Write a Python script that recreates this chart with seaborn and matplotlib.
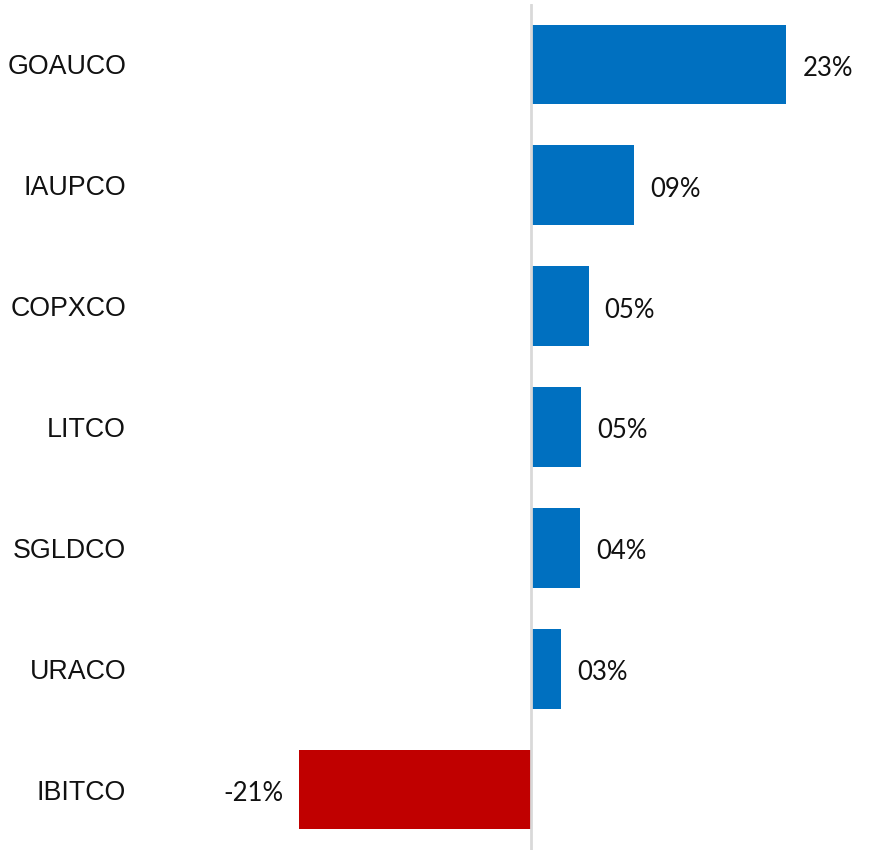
import pandas as pd
import numpy as np
import matplotlib.pyplot as plt
import seaborn as sns

# ── Data ─────────────────────────────────────────
tickers = ["GOAUCO", "IAUPCO", "COPXCO", "LITCO", "SGLDCO", "URACO", "IBITCO"]
returns = [23.0, 9.3, 5.2, 4.5, 4.4, 2.7, -20.9]
labels = ["23%", "09%", "05%", "05%", "04%", "03%", "-21%"]

BLUE = "#0070C0"
RED = "#C00000"

df = pd.DataFrame({"ticker": tickers, "ret": returns})
df["sign"] = np.where(df["ret"] >= 0, "pos", "neg")

sns.set_style("white")
plt.rcParams["font.family"] = ["Liberation Sans", "DejaVu Sans"]

fig = plt.figure(figsize=(8.71, 8.5), dpi=100)
ax = fig.add_axes([140 / 871, 0.0, 1 - 140 / 871, 1 - 4 / 850])

sns.barplot(
    data=df, x="ret", y="ticker", hue="sign",
    palette={"pos": BLUE, "neg": RED},
    orient="h", width=0.66, dodge=False, legend=False, ax=ax,
    saturation=1, linewidth=0,
)

# zero line, drawn over the bars like the original
ax.axvline(0, color="#d9d9d9", lw=2, zorder=3)

# value labels
for i, (v, lab) in enumerate(zip(returns, labels)):
    if v >= 0:
        ax.annotate(lab, (v, i), xytext=(16, -4), textcoords="offset pixels",
                    ha="left", va="center", fontsize=18.5, family="Lato", color="#111111")
    else:
        ax.annotate(lab, (v, i), xytext=(-16, -4), textcoords="offset pixels",
                    ha="right", va="center", fontsize=18.5, family="Lato", color="#111111")

ax.set_xlim((140 - 531) / 11.1, (871 - 531) / 11.1)
ax.set_ylim(6.5, -0.5)
ax.set_xlabel("")
ax.set_ylabel("")
ax.set_xticks([])
ax.tick_params(axis="y", length=0, labelsize=19.3, pad=10, labelcolor="#111111")
for s in ax.spines.values():
    s.set_visible(False)

fig.savefig("out.png", dpi=100)
